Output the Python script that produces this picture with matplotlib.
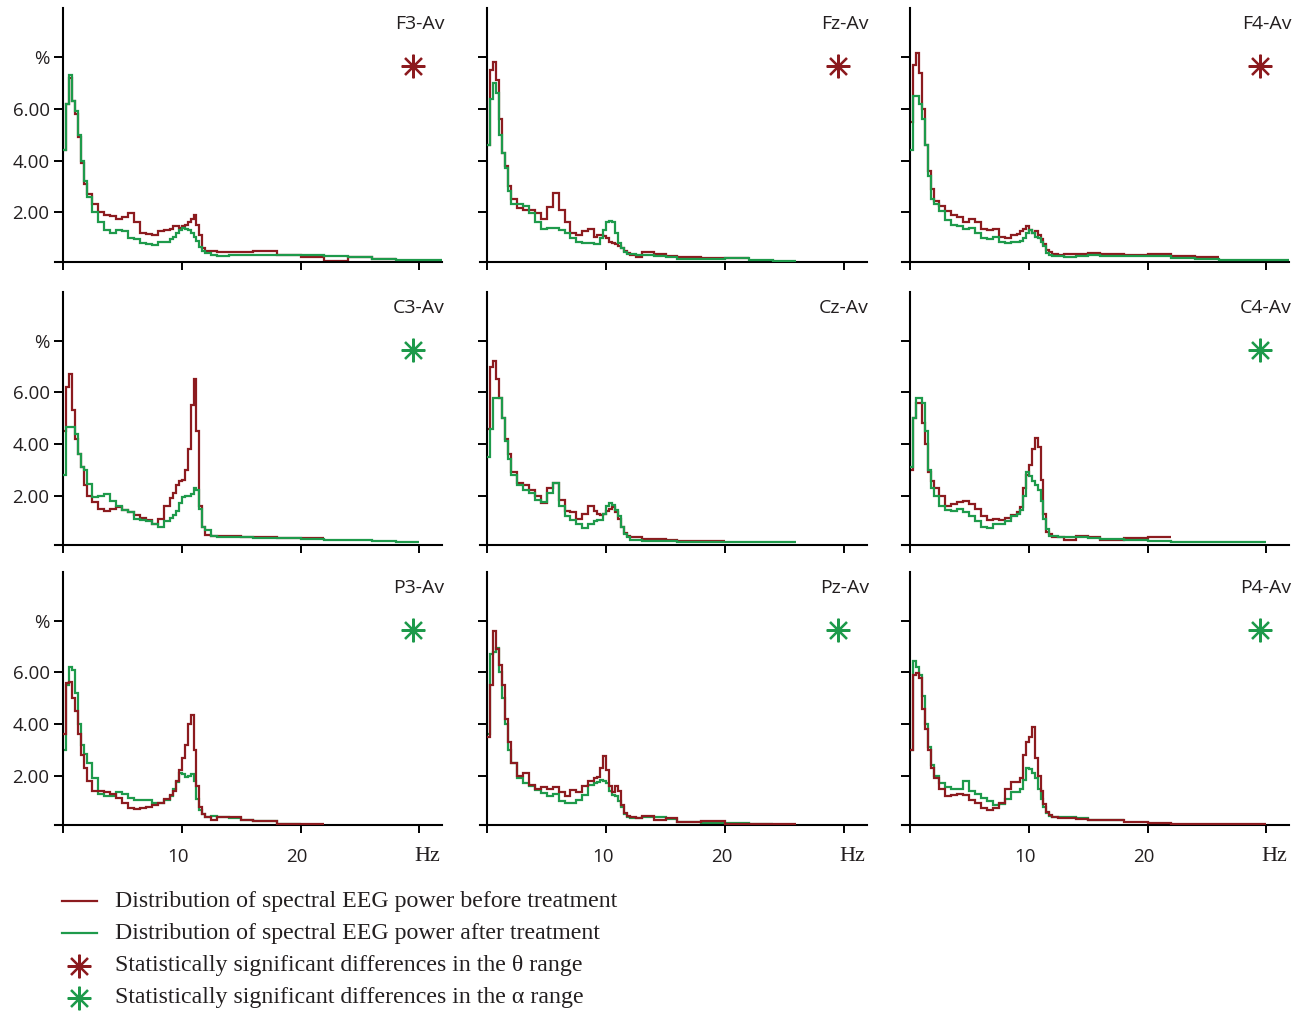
import numpy as np
import matplotlib.pyplot as plt

# Frequency bin edges (Hz) shared by all spectra
freq_edges = [0, 0.25, 0.5, 0.75, 1.0, 1.25, 1.5, 1.75, 2.0,
              2.5, 3.0, 3.5, 4.0, 4.5, 5.0, 5.5, 6.0, 6.5, 7.0, 7.5, 8.0, 8.5, 9.0,
              9.25, 9.5, 9.75, 10.0, 10.25, 10.5, 10.75, 11.0, 11.25, 11.5, 11.75, 12.0,
              12.5, 13.0, 14.0, 15.0, 16.0,
              18.0, 20.0, 22.0, 24.0, 26.0, 28.0, 30.0, 32.0]

# Spectral power (%) before / after treatment, per lead
f3_before = [4.4, 6.2, 7.2, 6.3, 5.8, 4.9, 3.9, 3.1,
             2.7, 2.3, 2.0, 1.9, 1.85, 1.75, 1.8, 1.95, 1.6, 1.2, 1.15, 1.12, 1.25, 1.3,
             1.35, 1.45, 1.45, 1.4, 1.45, 1.5, 1.6, 1.75, 1.9, 1.5, 1.1, 0.6,
             0.5, 0.48, 0.47, 0.45, 0.45,
             0.48, 0.35, 0.28, 0.12, 0.25, 0.2]
f3_after = [4.4, 6.2, 7.3, 6.3, 5.9, 5.0, 4.0, 3.2,
            2.6, 2.0, 1.6, 1.3, 1.2, 1.3, 1.25, 1.0, 0.95, 0.8, 0.78, 0.72, 0.85, 0.85,
            0.95, 1.05, 1.2, 1.3, 1.4, 1.35, 1.3, 1.2, 1.05, 0.9, 0.65, 0.5,
            0.42, 0.35, 0.32, 0.35, 0.35,
            0.35, 0.34, 0.33, 0.3, 0.25, 0.2, 0.16, 0.14]

fz_before = [4.6, 7.5, 7.8, 7.1, 5.6, 4.3, 3.8, 3.0,
             2.5, 2.15, 2.1, 2.1, 1.95, 1.75, 2.2, 2.75, 2.1, 1.6, 1.2, 1.1, 1.25, 1.35,
             1.05, 1.1, 1.12, 1.08, 1.0, 0.85, 0.8, 0.75, 0.7, 0.6, 0.5, 0.42,
             0.33, 0.28, 0.45, 0.38, 0.3,
             0.27, 0.22, 0.22]
fz_after = [4.6, 6.4, 7.0, 6.6, 5.0, 4.3, 3.7, 2.8,
            2.3, 2.3, 2.25, 1.95, 1.6, 1.35, 1.4, 1.4, 1.3, 1.2, 1.0, 0.85, 0.8, 0.8,
            0.75, 0.75, 1.0, 1.3, 1.6, 1.65, 1.6, 1.2, 0.8, 0.6, 0.45, 0.38,
            0.36, 0.35, 0.33, 0.3, 0.28,
            0.17, 0.2, 0.22, 0.16, 0.12]

f4_before = [5.5, 7.7, 8.15, 7.4, 6.0, 4.6, 3.6, 2.9,
             2.45, 2.25, 2.05, 1.9, 1.8, 1.6, 1.75, 1.6, 1.35, 1.3, 1.35, 1.05, 1.0, 1.1,
             1.15, 1.25, 1.35, 1.45, 1.3, 1.2, 1.25, 1.1, 0.95, 0.75, 0.55, 0.45,
             0.38, 0.35, 0.36, 0.38, 0.4,
             0.38, 0.35, 0.36, 0.3, 0.26]
f4_after = [4.4, 6.5, 6.5, 6.2, 5.6, 4.6, 3.4, 2.5,
            2.3, 2.05, 1.7, 1.5, 1.45, 1.35, 1.4, 1.2, 1.0, 0.95, 1.05, 0.85, 0.8, 0.85,
            0.85, 0.9, 1.0, 1.2, 1.3, 1.2, 1.05, 1.0, 0.85, 0.7, 0.42, 0.35,
            0.31, 0.3, 0.27, 0.3, 0.35,
            0.32, 0.31, 0.31, 0.22, 0.19, 0.16, 0.14, 0.13]

c3_before = [4.5, 6.2, 6.7, 5.3, 4.2, 3.6, 3.1, 2.4,
             2.0, 1.75, 1.5, 1.4, 1.5, 1.55, 1.45, 1.38, 1.25, 1.15, 1.05, 0.9, 1.1, 1.6,
             1.9, 2.1, 2.4, 2.55, 2.6, 3.0, 3.8, 5.5, 6.5, 4.5, 1.6, 0.8,
             0.46, 0.45, 0.45, 0.42, 0.4,
             0.38, 0.37, 0.36]
c3_after = [2.8, 4.65, 4.65, 4.65, 4.4, 3.6, 3.1, 3.0,
            2.45, 1.95, 2.0, 2.05, 1.8, 1.6, 1.45, 1.35, 1.1, 1.05, 1.0, 0.9, 0.8, 1.0,
            1.15, 1.25, 1.4, 1.7, 1.95, 2.0, 2.0, 2.05, 2.3, 2.2, 1.5, 0.8,
            0.65, 0.45, 0.4, 0.4, 0.38,
            0.36, 0.34, 0.32, 0.3, 0.27, 0.24, 0.2]

cz_before = [4.6, 7.0, 7.2, 6.5, 5.8, 5.0, 4.2, 3.6,
             2.9, 2.5, 2.4, 2.2, 2.0, 1.7, 2.3, 2.5, 1.85, 1.4, 1.35, 1.1, 1.3, 1.6,
             1.4, 1.3, 1.25, 1.3, 1.4, 1.5, 1.55, 1.35, 1.1, 0.8, 0.55, 0.45,
             0.4, 0.38, 0.33, 0.33, 0.3,
             0.26, 0.26]
cz_after = [3.5, 4.6, 5.8, 5.8, 5.8, 5.0, 4.1, 3.4,
            2.8, 2.4, 2.2, 2.1, 1.85, 1.75, 2.1, 2.5, 1.6, 1.2, 1.05, 0.9, 0.75, 0.9,
            1.0, 1.05, 1.05, 1.3, 1.6, 1.7, 1.65, 1.45, 1.2, 0.8, 0.5, 0.4,
            0.3, 0.27, 0.26, 0.25, 0.24,
            0.22, 0.21, 0.21, 0.2, 0.2]

c4_before = [3.0, 5.0, 5.6, 5.6, 4.8, 4.0, 2.9, 2.55,
             2.3, 2.0, 1.6, 1.68, 1.75, 1.8, 1.68, 1.5, 1.2, 1.05, 1.08, 1.05, 1.12, 1.25,
             1.35, 1.55, 2.3, 2.8, 3.2, 3.8, 4.25, 3.9, 2.6, 1.3, 0.6, 0.5,
             0.4, 0.4, 0.3, 0.42, 0.38,
             0.28, 0.35, 0.4]
c4_after = [3.1, 5.0, 5.8, 5.8, 5.6, 4.5, 3.0, 2.3,
            2.0, 1.6, 1.45, 1.42, 1.5, 1.35, 1.2, 1.0, 0.8, 0.75, 0.9, 0.9, 1.0, 1.2,
            1.3, 1.45, 2.0, 2.9, 2.75, 2.55, 2.4, 2.2, 1.8, 1.1, 0.7, 0.45,
            0.42, 0.4, 0.38, 0.38, 0.36,
            0.32, 0.3, 0.26, 0.2, 0.2, 0.2, 0.2]

p3_before = [3.6, 5.6, 5.64, 5.0, 4.5, 3.6, 2.8, 2.3,
             1.8, 1.4, 1.42, 1.35, 1.3, 1.15, 0.95, 0.75, 0.72, 0.74, 0.78, 0.85, 0.95, 1.1,
             1.25, 1.4, 1.8, 2.2, 2.7, 3.2, 4.0, 4.35, 3.0, 1.6, 0.8, 0.5,
             0.38, 0.3, 0.38, 0.38, 0.3,
             0.25, 0.13, 0.13]
p3_after = [3.0, 5.5, 6.2, 6.1, 5.2, 4.0, 3.2, 2.85,
            2.5, 1.9, 1.3, 1.2, 1.2, 1.35, 1.3, 1.15, 1.05, 1.05, 1.05, 0.95, 0.95, 1.05,
            1.2, 1.5, 1.75, 2.1, 2.05, 1.95, 2.0, 2.05, 1.8, 1.1, 0.65, 0.5,
            0.38, 0.45, 0.38, 0.35, 0.3,
            0.24, 0.13]

pz_before = [3.5, 5.5, 7.6, 6.9, 6.3, 5.5, 4.2, 3.3,
             2.5, 2.0, 2.1, 1.65, 1.5, 1.55, 1.5, 1.55, 1.35, 1.2, 1.45, 1.35, 1.6, 1.8,
             1.9, 1.95, 2.3, 2.75, 2.2, 1.6, 1.35, 1.6, 1.4, 0.85, 0.55, 0.45,
             0.38, 0.35, 0.42, 0.3, 0.35,
             0.22, 0.25, 0.13, 0.12, 0.12]
pz_after = [3.6, 6.7, 6.8, 6.95, 6.0, 5.0, 4.0, 3.0,
            2.5, 1.9, 1.7, 1.6, 1.45, 1.32, 1.2, 1.3, 1.0, 0.93, 0.93, 1.06, 1.25, 1.65,
            1.7, 1.75, 1.85, 1.8, 1.7, 1.4, 1.25, 1.2, 1.0, 0.8, 0.5, 0.4,
            0.35, 0.35, 0.4, 0.38, 0.33,
            0.2, 0.16, 0.15, 0.14]

p4_before = [3.0, 5.9, 5.96, 5.8, 4.6, 3.8, 3.0, 2.3,
             1.9, 1.5, 1.2, 1.25, 1.3, 1.25, 1.06, 0.95, 0.75, 0.68, 0.75, 0.95, 1.5, 1.75,
             1.75, 1.9, 2.8, 3.3, 3.5, 3.9, 2.7, 2.0, 1.4, 0.9, 0.6, 0.48,
             0.38, 0.35, 0.35, 0.32, 0.3,
             0.28, 0.22, 0.18, 0.12, 0.12, 0.12, 0.12]
p4_after = [3.0, 6.46, 6.2, 5.9, 5.1, 4.0, 3.1, 2.4,
            2.0, 1.7, 1.55, 1.5, 1.5, 1.8, 1.4, 1.3, 1.15, 1.0, 0.85, 0.9, 1.1, 1.35,
            1.35, 1.5, 1.85, 2.3, 2.25, 2.1, 1.9, 1.5, 1.1, 0.8, 0.55, 0.45,
            0.4, 0.4, 0.38, 0.35, 0.3,
            0.3]

leads = ["F3-Av", "Fz-Av", "F4-Av", "C3-Av", "Cz-Av", "C4-Av", "P3-Av", "Pz-Av", "P4-Av"]
before = [f3_before, fz_before, f4_before, c3_before, cz_before, c4_before,
          p3_before, pz_before, p4_before]
after = [f3_after, fz_after, f4_after, c3_after, cz_after, c4_after,
         p3_after, pz_after, p4_after]
# significance marker: 'theta', 'alpha' or None
signif = ["theta", "theta", "theta", "alpha", None, "alpha", "alpha", "alpha", "alpha"]

RED = "#8c1b1f"
GREEN = "#1e9a4b"
TXT = "#231f20"
SANS = "Open Sans"
SERIF = "Liberation Serif"
star = (8, 2, 0)

W, H = 1303, 1014
fig = plt.figure(figsize=(W / 100, H / 100), dpi=100)

col_left = [55, 479.5, 902]
row_top = [8.2, 291.7, 571.7]
ax_w, ax_h = 387, 253.5

for i, lead in enumerate(leads):
    r, c = divmod(i, 3)
    ax = fig.add_axes([col_left[c] / W, 1 - (row_top[r] + ax_h) / H, ax_w / W, ax_h / H])
    ax.set_xlim(-0.65, 31.9)
    ax.set_ylim(0.08, 9.9)

    b = before[i]
    a = after[i]
    red_top = (r == 2)
    ax.stairs(b, freq_edges[:len(b) + 1], baseline=None, color=RED, lw=1.6,
              zorder=3 if red_top else 2)
    ax.stairs(a, freq_edges[:len(a) + 1], baseline=None, color=GREEN, lw=1.6,
              zorder=2 if red_top else 3)

    for s in ["top", "right"]:
        ax.spines[s].set_visible(False)
    ax.spines["left"].set_position(("data", 0))
    ax.spines["left"].set_linewidth(1.5)
    ax.spines["bottom"].set_linewidth(1.5)

    ax.set_yticks([2, 4, 6, 8])
    ax.set_xticks([0, 10, 20, 30])
    ax.tick_params(axis="y", direction="out", length=6.5, width=1.4, pad=3,
                   labelsize=13.5, labelcolor=TXT)
    ax.tick_params(axis="x", direction="out", length=6, width=1.4, labelbottom=False)
    if c == 0:
        ax.set_yticklabels(["2.00", "4.00", "6.00", "%"], family=SANS)
    else:
        ax.set_yticklabels([])

    if r == 2:
        xt = ax.get_xaxis_transform()
        ax.text(9.7, -0.125, "10", transform=xt, ha="center", va="center",
                fontsize=13.5, family=SANS, color=TXT)
        ax.text(19.7, -0.125, "20", transform=xt, ha="center", va="center",
                fontsize=13.5, family=SANS, color=TXT)
        ax.text(30.7, -0.125, "Hz", transform=xt, ha="center", va="center",
                fontsize=16, family=SERIF, color=TXT)

    ax.text(1.006, 9.28, lead, transform=ax.get_yaxis_transform(), ha="right",
            va="center", fontsize=14, family=SANS, color=TXT)

    if signif[i] is not None:
        col = RED if signif[i] == "theta" else GREEN
        ax.plot([29.5], [7.65], marker=star, ms=17, mew=1.6, color=col,
                linestyle="none", clip_on=False)

# legend
leg = fig.add_axes([0, 0, 1, 1], facecolor="none")
leg.set_xlim(0, W)
leg.set_ylim(H, 0)
leg.axis("off")
leg.plot([62, 97], [901, 901], color=RED, lw=1.6)
leg.plot([62, 97], [933, 933], color=GREEN, lw=1.6)
leg.plot([79], [966], marker=star, ms=17, mew=1.6, color=RED, linestyle="none")
leg.plot([79], [998], marker=star, ms=17, mew=1.6, color=GREEN, linestyle="none")
labels = ["Distribution of spectral EEG power before treatment",
          "Distribution of spectral EEG power after treatment",
          "Statistically significant differences in the \u03b8 range",
          "Statistically significant differences in the \u03b1 range"]
for y, t in zip([902, 934, 966, 998], labels):
    leg.text(115, y, t, ha="left", va="center", fontsize=17.2, family=SERIF, color=TXT)

fig.savefig("out.png", dpi=100)
